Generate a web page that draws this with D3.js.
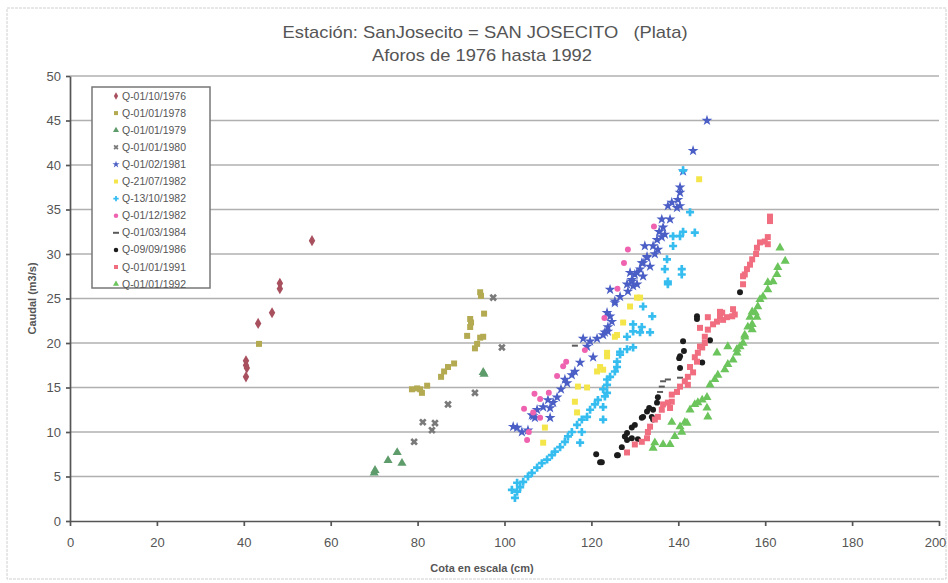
<!DOCTYPE html>
<head>
  <meta charset="utf-8">
  <script src="https://d3js.org/d3.v7.min.js"></script>
  <style>
    body { margin: 0; background: #fff; font-family: "Liberation Sans", Arial, sans-serif; }
    .grid line { stroke: #b0b0b0; stroke-width: 1.7px; }
    .axis path, .axis line { stroke: #555; stroke-width: 1.7px; }
    .axis text { fill: #555; font-family: "Liberation Sans", sans-serif; font-size: 13px; }
  </style>
</head>
<body>
<svg width="948" height="583" id="chart"></svg>
<script>
// series data: [cota (cm), caudal (m3/s)]
const s1976 = [[40.5,16.2],[40.7,17.2],[40.5,17.5],[40.5,18.0],[43.3,22.2],[46.5,23.4],[48.3,26.1],[48.3,26.7],[55.7,31.5]];
const s1978 = [[94.4,25.7],[94.6,25.3],[95.3,23.3],[92.1,22.7],[92.3,22.3],[92.1,21.8],[91.4,20.8],[94.4,20.6],[95.1,20.7],
  [93.7,19.9],[93.2,19.4],[88.4,17.7],[87.0,17.3],[86.1,16.8],[85.4,16.2],[82.2,15.2],[80.6,14.8],[79.9,14.9],[78.7,14.8],[81.0,14.4],[43.5,19.9]];
const s1979 = [[95.1,16.7],[95.3,16.5],[75.3,7.7],[73.2,6.8],[76.4,6.5],[70.2,5.7],[70.0,5.4]];
const s1980 = [[97.4,25.1],[99.4,19.5],[93.2,14.4],[87.0,13.1],[81.2,11.1],[84.0,11.0],[83.3,10.2],[79.2,8.9]];
const s1981 = [[125.4,24.5],[123.6,23.4],[124.7,22.4],[123.8,21.3],[123.1,21.2],[121.3,20.5],[119.7,20.2],[119.0,19.6],[118.1,20.5],
  [120.4,18.4],[117.4,17.8],[116.2,16.8],[115.5,16.4],[113.9,15.9],[114.4,15.5],[113.0,14.8],[112.1,13.9],[111.2,13.3],[110.0,13.6],
  [110.5,12.7],[108.9,12.8],[107.5,12.5],[106.6,11.8],[107.0,11.6],[106.3,11.9],[102.9,10.5],[102.0,10.6],[104.0,10.0],[105.4,10.2],
  [110.5,11.6],[143.4,41.6],[141.1,39.3],[140.4,37.5],[140.4,36.9],[139.9,36.1],[138.5,35.8],[137.6,35.4],[140.4,35.4],[139.7,35.2],
  [136.2,33.9],[138.1,33.9],[136.5,33.0],[135.6,32.5],[136.9,32.2],[135.1,31.6],[134.2,30.9],[135.3,30.5],[132.3,30.9],[134.6,30.0],
  [132.8,29.6],[131.9,29.0],[133.5,28.6],[131.2,28.3],[130.0,27.7],[131.9,27.5],[128.9,27.9],[129.3,26.9],[128.2,26.6],[130.5,26.6],
  [128.4,25.8],[124.3,26.0],[126.6,25.2],[146.6,45.0],[136.2,31.9],[132.8,29.7],[131.6,29.0],[130.5,27.9],[129.3,27.1],[129.6,26.4],
  [125.4,24.7],[124.3,23.0],[123.8,21.8],[122.7,20.9]];
const s1982a = [[127.3,22.3],[125.4,20.7],[123.6,18.5],[122.0,17.3],[121.3,16.8],[116.9,15.1],[119.0,15.0],[116.2,13.4],[116.7,12.2],
  [109.3,10.5],[108.9,8.8],[130.5,25.1],[128.9,24.1],[125.9,20.9],[123.6,18.9],[122.7,17.0],[144.8,38.4],[131.2,25.1]];
const s1982b = [[129.6,21.3],[128.2,19.3],[126.6,18.7],[125.9,17.9],[125.4,16.8],[124.3,16.2],[123.6,15.3],[122.7,14.8],[123.1,14.0],
  [121.5,13.6],[120.8,13.1],[119.7,12.5],[122.7,11.4],[119.0,11.7],[117.8,11.4],[116.7,10.8],[115.5,10.0],[117.8,10.0],[114.6,9.5],
  [113.9,8.9],[117.4,8.8],[112.8,8.3],[111.6,7.8],[110.9,7.4],[109.8,6.9],[108.6,6.5],[107.5,6.0],[106.3,5.4],[105.4,5.0],[104.3,4.4],
  [102.9,4.3],[103.6,3.8],[101.7,3.5],[102.9,3.3],[102.4,2.6],[142.7,34.7],[141.1,32.5],[143.8,32.4],[140.4,32.0],[138.8,32.0],
  [138.8,30.9],[137.4,29.4],[140.8,28.3],[136.9,28.3],[140.8,27.7],[137.6,26.9],[137.6,26.6],[141.1,39.4],[131.9,24.1],[134.0,23.0],
  [129.6,22.1],[131.6,21.8],[128.2,20.7],[131.2,21.2],[133.5,21.2],[129.6,19.5],[126.6,19.0],[125.9,17.3],[123.6,15.9],[123.6,14.4],
  [122.7,12.8]];
const s1982c = [[114.2,17.9],[112.1,16.3],[110.2,14.4],[108.2,13.7],[106.6,12.2],[108.2,11.6],[105.6,10.0],[105.2,9.1],[134.4,33.1],
  [128.4,30.5],[104.5,12.6],[106.9,14.3],[113.5,17.4],[118.5,19.2],[123.0,22.8],[126.0,26.1],[127.5,29.0]];
const s1984 = [[140.4,16.1],[137.6,15.9],[136.5,15.7],[136.2,15.1],[135.8,14.5],[116.2,19.7]];
const s1986 = [[144.3,23.0],[144.3,22.7],[141.1,20.2],[141.3,19.1],[140.4,18.5],[140.2,18.3],[140.4,17.2],[145.5,17.8],[147.3,20.3],
  [135.3,13.9],[135.1,13.3],[134.2,12.5],[133.3,12.7],[132.8,12.3],[131.9,11.7],[131.6,11.6],[133.9,11.7],[134.2,11.4],[130.0,10.8],
  [129.3,10.5],[128.2,9.9],[127.7,9.5],[128.2,9.1],[129.3,9.3],[130.7,9.2],[127.0,8.3],[125.9,7.4],[122.4,6.6],[121.1,7.5],[122.0,6.6],
  [126.1,7.4],[154.2,25.7]];
const s1991 = [[161.1,34.2],[161.1,33.7],[160.6,31.9],[159.9,31.4],[158.8,31.3],[158.1,30.7],[160.6,31.1],[157.9,30.0],[157.0,29.4],
  [156.5,28.8],[155.8,28.3],[155.3,27.7],[154.9,27.5],[154.9,26.6],[153.0,23.2],[152.6,23.8],[152.4,23.0],[150.1,23.4],[149.6,23.0],
  [150.3,22.6],[148.9,22.4],[148.0,22.1],[151.2,22.9],[146.8,21.5],[146.1,20.7],[145.0,19.6],[146.1,20.0],[145.5,19.5],[144.5,18.9],
  [143.8,18.4],[144.3,17.9],[142.7,17.3],[143.4,16.7],[142.2,16.2],[141.5,15.7],[142.2,15.3],[140.4,15.1],[139.7,14.5],[138.5,14.2],
  [138.5,13.4],[137.6,13.3],[138.1,12.7],[136.5,13.1],[136.2,12.5],[135.3,11.7],[134.6,11.4],[133.5,10.6],[133.0,10.0],[132.8,9.3],
  [131.6,8.9],[130.0,8.6],[128.2,7.7],[145.0,21.7],[146.8,22.9],[149.6,23.5]];
const s1992 = [[163.4,30.7],[164.6,29.2],[162.9,28.5],[162.7,27.7],[161.8,26.9],[160.6,26.8],[160.6,26.0],[159.5,25.2],[158.8,24.9],
  [158.3,24.1],[157.7,23.4],[157.0,23.5],[156.5,22.9],[158.1,22.9],[156.0,21.8],[157.0,21.5],[155.3,20.7],[154.9,20.0],[153.5,19.3],
  [151.4,19.6],[157.0,22.1],[155.3,20.9],[154.2,19.6],[153.5,18.9],[152.6,18.1],[151.4,17.6],[150.7,17.0],[149.1,16.4],[148.4,15.9],
  [147.3,15.3],[146.6,13.9],[145.5,13.6],[144.5,13.3],[143.8,13.1],[146.6,12.7],[146.8,11.7],[142.7,12.5],[141.5,11.1],[140.4,10.6],
  [138.5,11.1],[140.8,10.0],[139.2,9.5],[138.1,8.6],[136.5,8.6],[134.6,8.8],[134.2,8.2],[142.0,11.0],[148.9,18.9]];

const seriesData = [s1976, s1978, s1979, s1980, s1981, s1982a, s1982b, s1982c, s1984, s1986, s1991, s1992];
const seriesNames = ["Q-01/10/1976", "Q-01/01/1978", "Q-01/01/1979", "Q-01/01/1980", "Q-01/02/1981", "Q-21/07/1982",
  "Q-13/10/1982", "Q-01/12/1982", "Q-01/03/1984", "Q-09/09/1986", "Q-01/01/1991", "Q-01/01/1992"];
const seriesColors = ["#a8505e", "#b3aa52", "#5f9c6c", "#7a7a7a", "#4a5ec6", "#f4e64a", "#36bdf0", "#ee62b0",
  "#5a5a5a", "#1c1c1c", "#f06e80", "#6cc45c"];
const seriesShapes = ["diamond", "square", "triangle", "x", "star", "square", "cross", "circle", "dash", "circle", "square", "triangle"];
const xTicks = d3.range(0, 201, 20);
const yTicks = d3.range(0, 51, 5);

const svg = d3.select("#chart");
const margin = {left: 70, right: 9, top: 76, bottom: 62};
const W = 948, H = 583;

// outer frame of the sheet
svg.append("rect").attr("x", 7).attr("y", 8).attr("width", 939).attr("height", 571)
  .attr("fill", "none").attr("stroke", "#d0d0d0").attr("stroke-dasharray", "3,1");

const x = d3.scaleLinear().domain([0, 200]).range([margin.left, W - margin.right]);
const y = d3.scaleLinear().domain([0, 50]).range([H - margin.bottom, margin.top]);

svg.append("g").attr("class", "grid")
  .selectAll("line").data(yTicks.filter(d => d > 0)).enter().append("line")
  .attr("x1", x(0)).attr("x2", x(200)).attr("y1", d => y(d)).attr("y2", d => y(d));

const xAxis = svg.append("g").attr("class", "axis")
  .attr("transform", `translate(0,${y(0)})`)
  .call(d3.axisBottom(x).tickValues(xTicks).tickSize(5).tickPadding(12).tickSizeOuter(0));
xAxis.selectAll(".tick:last-of-type text").attr("dx", -4);
svg.append("g").attr("class", "axis")
  .attr("transform", `translate(${x(0)},0)`)
  .call(d3.axisLeft(y).tickValues(yTicks).tickSize(4).tickPadding(5).tickSizeOuter(0));

// titles
svg.append("text").attr("x", 485).attr("y", 38).attr("text-anchor", "middle")
  .style("font-size", "17px").attr("fill", "#555")
  .attr("textLength", 405).attr("lengthAdjust", "spacingAndGlyphs")
  .attr("xml:space", "preserve")
  .text("Estación: SanJosecito = SAN JOSECITO   (Plata)");
svg.append("text").attr("x", 482).attr("y", 61).attr("text-anchor", "middle")
  .style("font-size", "17px").attr("fill", "#555")
  .attr("textLength", 220).attr("lengthAdjust", "spacingAndGlyphs")
  .text("Aforos de 1976 hasta 1992");
svg.append("text").attr("x", 482).attr("y", 572).attr("text-anchor", "middle")
  .style("font-size", "11px").style("font-weight", "bold").attr("fill", "#555")
  .text("Cota en escala (cm)");
svg.append("text").attr("transform", `translate(36,${(y(0) + y(50)) / 2}) rotate(-90)`).attr("text-anchor", "middle")
  .style("font-size", "11px").style("font-weight", "bold").attr("fill", "#555")
  .text("Caudal (m3/s)");

function shapePath(name, size) {
  if (name === "dash") return `M${-3},-1h6v2h-6z`;
  const t = {diamond: d3.symbolDiamond, square: d3.symbolSquare, triangle: d3.symbolTriangle, x: d3.symbolCross,
    star: d3.symbolStar, cross: d3.symbolCross, circle: d3.symbolCircle}[name];
  return d3.symbol().type(t).size(size)();
}

const marks = svg.append("g");
seriesData.forEach((data, i) => {
  marks.append("g").selectAll("path").data(data).enter().append("path")
    .attr("d", shapePath(seriesShapes[i], seriesShapes[i] === "circle" ? 28 : 36))
    .attr("transform", d => `translate(${x(d[0])},${y(d[1])})` + (seriesShapes[i] === "x" ? " rotate(45)" : ""))
    .attr("fill", seriesColors[i]);
});

// legend
const lg = svg.append("g").attr("transform", "translate(92,87)");
lg.append("rect").attr("width", 118).attr("height", 201).attr("fill", "#fff")
  .attr("stroke", "#777").attr("stroke-width", 1.5);
seriesNames.forEach((n, i) => {
  const yy = 9 + i * 17.1;
  lg.append("path").attr("d", shapePath(seriesShapes[i], 16))
    .attr("transform", `translate(24,${yy})` + (seriesShapes[i] === "x" ? " rotate(45)" : ""))
    .attr("fill", seriesColors[i]);
  lg.append("text").attr("x", 30).attr("y", yy + 3.5)
    .style("font-size", "10.5px").attr("fill", "#555")
    .attr("textLength", 64).attr("lengthAdjust", "spacingAndGlyphs").text(n);
});
</script>
</body>
